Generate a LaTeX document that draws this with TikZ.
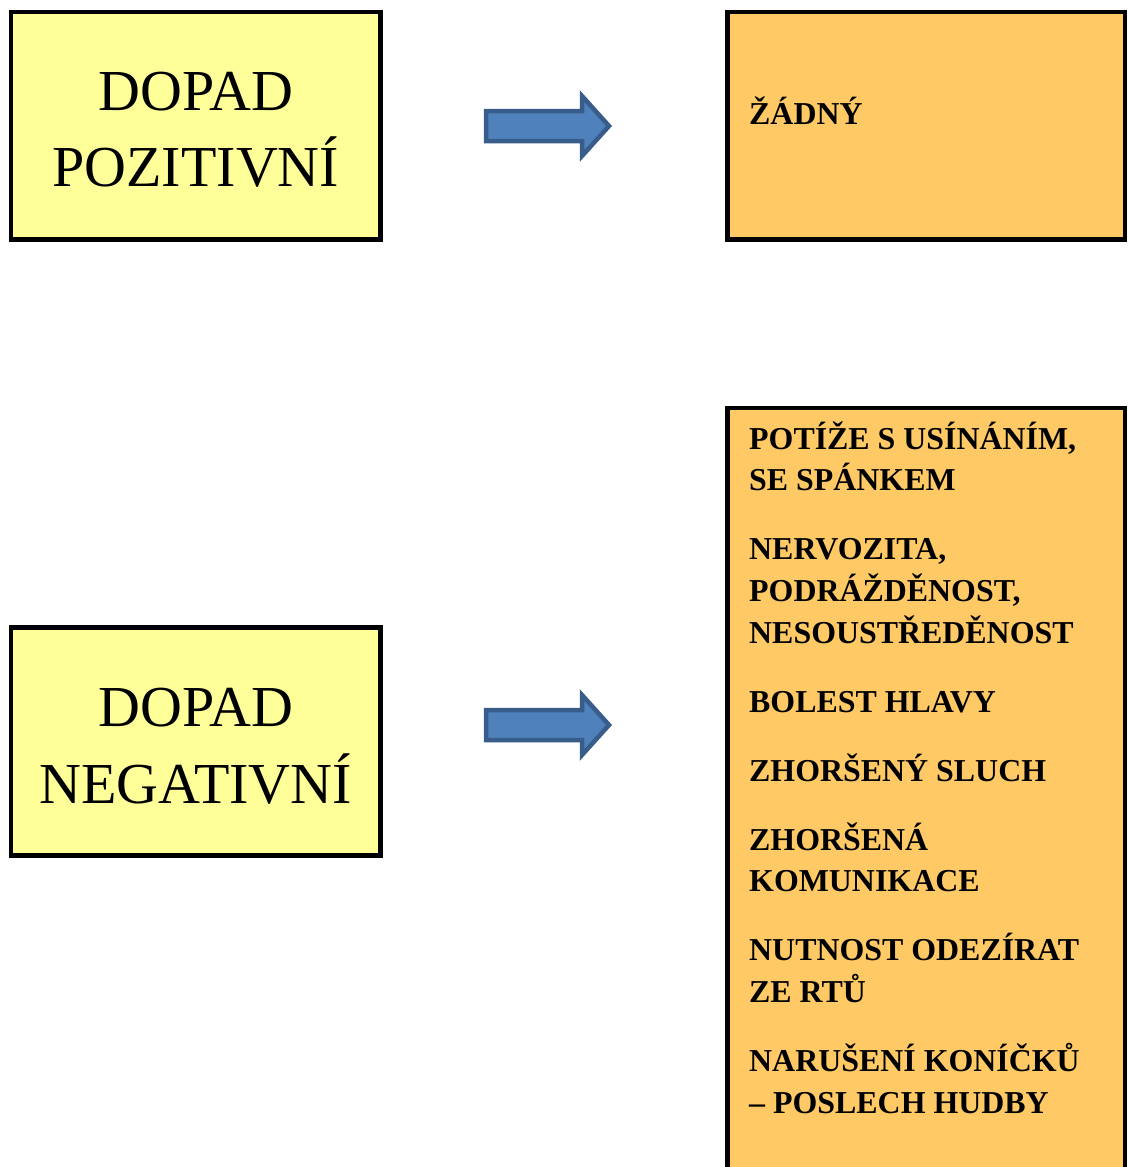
\documentclass[tikz,border=0pt]{standalone}
\usepackage{fontspec}
\setmainfont{Liberation Serif}
\definecolor{boxyellow}{HTML}{FFFF99}
\definecolor{boxorange}{HTML}{FFCA66}
\definecolor{arrowfill}{HTML}{4F81BD}
\definecolor{arrowline}{HTML}{385D8A}
\tikzset{
  frame/.style={draw=black, line width=4.8pt, rectangle, inner sep=0pt},
  causebox/.style={frame, fill=boxyellow},
  effectbox/.style={frame, fill=boxorange},
  causetext/.style={anchor=base, align=center, inner sep=0pt, font=\fontsize{58}{76.5}\selectfont},
  effecttext/.style={anchor=base west, align=left, inner sep=0pt, font=\bfseries\fontsize{31.9}{41.7}\selectfont},
  blockarrow/.style={fill=arrowfill, draw=arrowline, line width=4.5pt, miter limit=10}
}
\begin{document}
\begin{tikzpicture}[x=1pt, y=-1pt]
\useasboundingbox (0,0) rectangle (1127,1167);
\clip (0,0) rectangle (1127,1167);
\fill[white] (0,0) rectangle (1127,1167);

% top row (text nodes anchored at the baseline of their last line)
\node[causebox, minimum width=369.5pt, minimum height=227.5pt] (pos) at (195.75,125.75) {};
\node[causetext] (posT) at (195.75,186.7) {DOPAD\\POZITIVNÍ};
\node[effectbox, minimum width=397.5pt, minimum height=227.5pt] (none) at (926.25,125.75) {};
\node[effecttext] (noneT) at (749,124.3) {ŽÁDNÝ};

% bottom row
\node[causebox, minimum width=369.5pt, minimum height=228pt] (neg) at (195.75,741.5) {};
\node[causetext] (negT) at (195.75,803) {DOPAD\\NEGATIVNÍ};
\node[effectbox, minimum width=397.5pt, minimum height=800pt, anchor=north] (list) at (926.25,405.5) {};
\node[effecttext] (listT) at (749,1113.3) {POTÍŽE S USÍNÁNÍM,\\SE SPÁNKEM\\[27.3pt]
NERVOZITA,\\PODRÁŽDĚNOST,\\NESOUSTŘEDĚNOST\\[27.3pt]
BOLEST HLAVY\\[27.3pt]
ZHORŠENÝ SLUCH\\[27.3pt]
ZHORŠENÁ\\KOMUNIKACE\\[27.3pt]
NUTNOST ODEZÍRAT\\ZE RTŮ\\[27.3pt]
NARUŠENÍ KONÍČKŮ\\– POSLECH HUDBY};

% block arrows
\draw[blockarrow] (486,111) -- (582,111) -- (582,96) -- (609,126) -- (582,156) -- (582,141) -- (486,141) -- cycle;
\draw[blockarrow] (486,710) -- (582,710) -- (582,695) -- (609,725) -- (582,755) -- (582,740) -- (486,740) -- cycle;
\end{tikzpicture}
\end{document}
